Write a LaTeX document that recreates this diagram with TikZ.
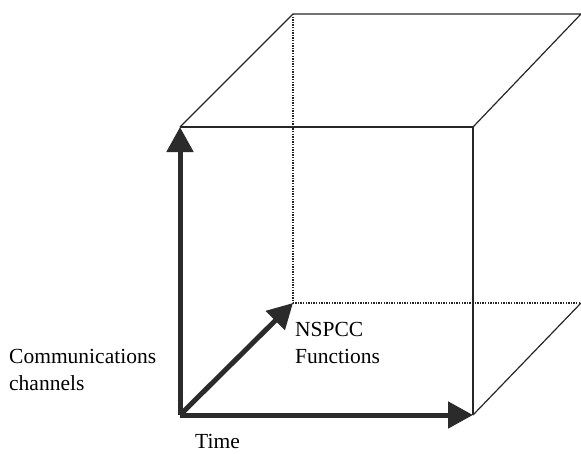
\documentclass[tikz,border=0pt]{standalone}
\usepackage{fontspec}
\setmainfont{Liberation Serif}
\usetikzlibrary{arrows.meta}
\tikzset{
	edge/.style={line width=1.2pt, draw=black!85},
	hidden/.style={edge, dash pattern=on 1.3pt off 1.3pt},
	axis/.style={line width=5pt, draw=black!83, -{Triangle[length=25pt,width=26pt]}},
	lbl/.style={anchor=base west, inner sep=0pt, font=\fontsize{21.5}{27}\selectfont, align=left}
}

\begin{document}
\begin{tikzpicture}[x=1pt, y=-1pt]
				\useasboundingbox (0,0) rectangle (581,453);
				
				% front face
				\coordinate (O) at (180,415);
				\coordinate (A) at (180,127);
				\coordinate (B) at (473,127);
				\coordinate (C) at (473,415);
				% back face
				\coordinate (D) at (293,303);
				\coordinate (E) at (293,14);
				\coordinate (F) at (581,14);
				\coordinate (G) at (581,303);
				
				\draw[edge] (A) -- (B) -- (C);
				\draw[edge] (A) -- (E) -- (F) -- (B);
				\draw[edge] (C) -- (G);
				\draw[hidden] (E) -- (D) -- (G);
				
				\draw[axis] (O) -- (A);
				\draw[axis] (O) -- (C);
				\draw[axis] (O) -- (D);
				
				% base of a two-line label is its last line
				\node[lbl] (chan) at (9,390) {Communications\\channels};
				\node[lbl] (func) at (295,363) {NSPCC\\Functions};
				\node[lbl] (time) at (195,448) {Time};
			\end{tikzpicture}
\end{document}
